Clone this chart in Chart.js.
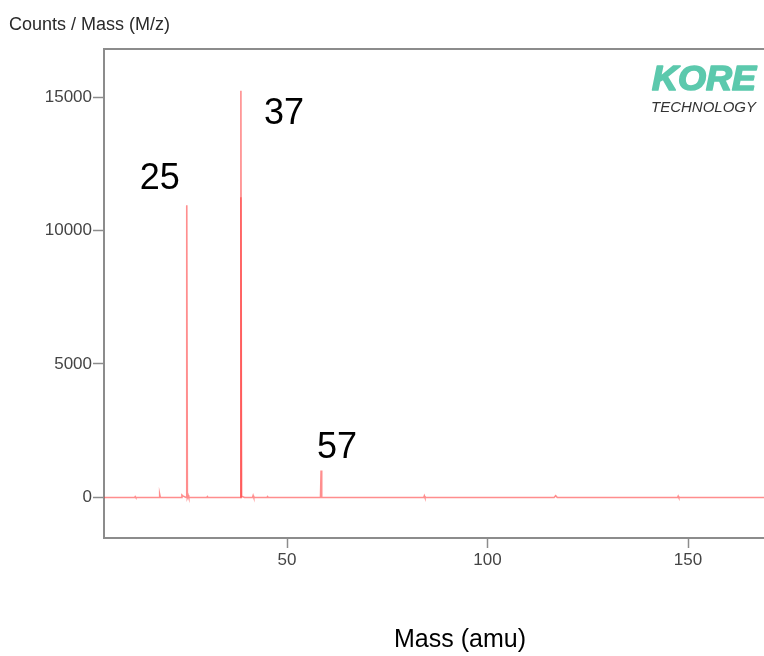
<!DOCTYPE html>
<html>
<head>
<meta charset="utf-8">
<script src="https://cdn.jsdelivr.net/npm/chart.js@4/dist/chart.umd.min.js"></script>
<style>
  html, body { margin: 0; padding: 0; background: #fff; overflow: hidden; }
  #wrap { position: relative; width: 764px; height: 656px; }
</style>
</head>
<body>
<div id="wrap"><canvas id="c" width="764" height="656"></canvas></div>
<script>
// ---- data ----
const massValues = [4.4, 12, 12.15, 12.3, 18.1, 18.25, 18.4, 23.6, 23.8, 24.0, 24.85, 25.0, 25.15, 25.35, 25.5,
  30, 30.15, 30.3, 38.35, 38.5, 38.65, 39.4, 41.4, 41.55, 41.7, 45, 45.15, 45.3, 58.35, 58.5, 58.65,
  84.1, 84.25, 84.4, 116.6, 117, 117.4, 147.4, 147.55, 147.7, 170];
const countValues = [0, 0, 30, 0, 0, 110, 0, 0, 90, 60, 0, 10950, 0, 80, 0,
  0, 30, 0, 0, 15230, 50, 0, 0, 70, 0, 0, 30, 0, 0, 1010, 0,
  0, 60, 0, 0, 70, 0, 0, 50, 0, 0];
const overlayMassValues = [38.38, 38.5, 38.62];
const overlayCountValues = [0, 11250, 0];
const peakMasses = [25.0, 38.5, 58.5];
const peakCounts = [10950, 15230, 1010];
const peakLabels = ["25", "37", "57"];
const xTickValues = [50, 100, 150];
const yTickValues = [0, 5000, 10000, 15000];
const yAxisTitle = "Counts / Mass (M/z)";
const xAxisTitle = "Mass (amu)";
const logoMain = "KORE";
const logoSub = "TECHNOLOGY";

const FONT = "'Liberation Sans', Arial, Helvetica, sans-serif";

const spectrum = massValues.map((m, i) => ({ x: m, y: countValues[i] }));
const overlay = overlayMassValues.map((m, i) => ({ x: m, y: overlayCountValues[i] }));

const decor = {
  id: 'decor',
  afterDraw(chart) {
    const { ctx, chartArea, scales } = chart;
    ctx.save();
    // top frame line
    ctx.strokeStyle = '#8c8c8c';
    ctx.lineWidth = 2;
    ctx.beginPath();
    ctx.moveTo(chartArea.left - 1, chartArea.top);
    ctx.lineTo(chartArea.right + 2, chartArea.top);
    ctx.stroke();

    // y axis title (top-left)
    ctx.fillStyle = '#2a2a2a';
    ctx.font = '18px ' + FONT;
    ctx.textBaseline = 'alphabetic';
    ctx.textAlign = 'left';
    ctx.fillText(yAxisTitle, 9, 30);

    // x axis title
    ctx.fillStyle = '#000';
    ctx.font = '25px ' + FONT;
    ctx.textAlign = 'center';
    ctx.fillText(xAxisTitle, 460, 647);

    // peak labels
    const offs = [[-47, -16], [23, 33], [-4, -13]];
    ctx.font = '36px ' + FONT;
    ctx.textAlign = 'left';
    ctx.fillStyle = '#000';
    peakLabels.forEach((lab, i) => {
      const px = scales.x.getPixelForValue(peakMasses[i]);
      const py = scales.y.getPixelForValue(peakCounts[i]);
      ctx.fillText(lab, px + offs[i][0], py + offs[i][1]);
    });

    // logo
    ctx.fillStyle = '#5cc9ad';
    ctx.strokeStyle = '#5cc9ad';
    ctx.lineWidth = 1.6;
    ctx.lineJoin = 'round';
    ctx.font = 'italic bold 34px ' + FONT;
    ctx.textAlign = 'left';
    const w = ctx.measureText(logoMain).width;
    ctx.save();
    ctx.translate(652, 90);
    ctx.scale(104 / w, 1.05);
    ctx.fillText(logoMain, 0, 0);
    ctx.strokeText(logoMain, 0, 0);
    ctx.restore();
    ctx.fillStyle = '#333';
    ctx.font = 'italic 15px ' + FONT;
    ctx.textAlign = 'right';
    ctx.fillText(logoSub, 756, 112);
    ctx.restore();
  }
};

new Chart(document.getElementById('c'), {
  type: 'line',
  data: {
    datasets: [{
      data: spectrum,
      borderColor: 'rgba(255, 30, 30, 0.5)',
      borderWidth: 1.6,
      pointRadius: 0,
      tension: 0,
      fill: false
    }, {
      data: overlay,
      borderColor: 'rgba(255, 30, 30, 0.45)',
      borderWidth: 1.6,
      pointRadius: 0,
      tension: 0,
      fill: false
    }]
  },
  options: {
    responsive: false,
    animation: false,
    layout: { padding: { top: 49, right: 0, left: 0, bottom: 0 } },
    plugins: { legend: { display: false }, tooltip: { enabled: false } },
    scales: {
      x: {
        type: 'linear',
        min: 4.36,
        max: 168.95,
        afterBuildTicks(s) { s.ticks = xTickValues.map(v => ({ value: v })); },
        afterFit(s) { s.height = 118; },
        grid: { drawOnChartArea: false, tickLength: 10, color: '#8c8c8c', tickWidth: 1.5 },
        border: { color: '#8c8c8c', width: 2 },
        ticks: { color: '#444', font: { size: 17, family: FONT }, padding: 2, maxRotation: 0,
                 callback: v => String(v) }
      },
      y: {
        min: -1517,
        max: 16798,
        afterBuildTicks(s) { s.ticks = yTickValues.map(v => ({ value: v })); },
        afterFit(s) { s.width = 104; },
        grid: { drawOnChartArea: false, tickLength: 11, color: '#8c8c8c', tickWidth: 1.5 },
        border: { color: '#8c8c8c', width: 2 },
        ticks: { color: '#444', font: { size: 17, family: FONT }, padding: 1,
                 callback: v => String(v) }
      }
    }
  },
  plugins: [decor]
});
</script>
</body>
</html>
